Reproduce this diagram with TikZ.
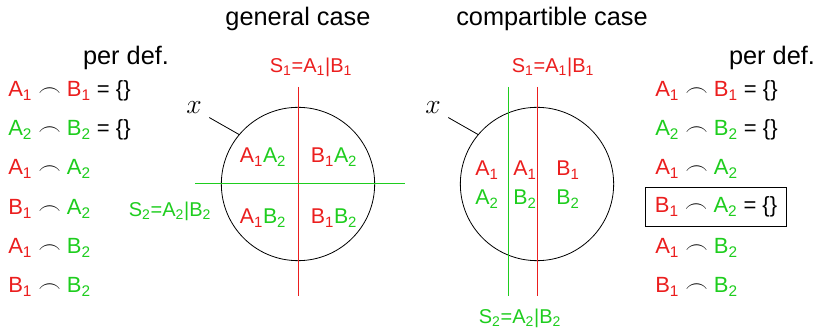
\documentclass[tikz,border=0pt]{standalone}
\usepackage{fontspec}
\setmainfont{Liberation Sans}
\usetikzlibrary{positioning}
\definecolor{SplitRed}{RGB}{235,30,30}
\definecolor{SplitGreen}{RGB}{30,205,30}
\newcommand{\Aone}{\textcolor{SplitRed}{A\textsubscript{1}}}
\newcommand{\Bone}{\textcolor{SplitRed}{B\textsubscript{1}}}
\newcommand{\Atwo}{\textcolor{SplitGreen}{A\textsubscript{2}}}
\newcommand{\Btwo}{\textcolor{SplitGreen}{B\textsubscript{2}}}
\newcommand{\cut}{$\frown$}
\tikzset{
  title/.style={font=\fontsize{19}{22}\selectfont},
  lbl/.style={font=\fontsize{16}{19}\selectfont},
  splitlbl/.style={font=\fontsize{15}{18}\selectfont,inner sep=1pt},
  row/.style={anchor=west,inner sep=0pt,font=\fontsize{16.5}{19}\selectfont},
  boxrow/.style={anchor=west,draw,line width=0.75pt,inner xsep=7pt,
    minimum height=29pt,font=\fontsize{16.5}{19}\selectfont},
  setX/.style={circle,draw,line width=0.6pt,minimum size=115pt,inner sep=0pt},
  redsplit/.style={draw=SplitRed,line width=0.75pt},
  greensplit/.style={draw=SplitGreen,line width=0.75pt},
  leader/.style={line width=0.6pt},
  xlabel/.style={font=\fontsize{22}{24}\selectfont,inner sep=1pt}
}

\begin{document}
\begin{tikzpicture}[x=0.75pt,y=-0.75pt]
\useasboundingbox (0,0) rectangle (818,331);

% titles
\node[title] (gentitle) at (298,19) {general case};
\node[title] (comptitle) at (552,19) {compartible case};

% left list
\node[title] (ldef) at (126,58) {per def.};
\node[row] (l1) at (8,91) {\Aone{} \cut{} \Bone{} = \{\}};
\node[row] (l2) at (8,130) {\Atwo{} \cut{} \Btwo{} = \{\}};
\node[row] (l3) at (8,169) {\Aone{} \cut{} \Atwo};
\node[row] (l4) at (8,209) {\Bone{} \cut{} \Atwo};
\node[row] (l5) at (8,248) {\Aone{} \cut{} \Btwo};
\node[row] (l6) at (8,287) {\Bone{} \cut{} \Btwo};

% general case
\node[setX] (genX) at (298,184) {};
\coordinate (g1top) at (298,87);
\coordinate (g1bot) at (298,296);
\coordinate (g2left) at (195,184);
\coordinate (g2right) at (405,184);
\draw[redsplit] (g1top) -- (g1bot);
\draw[greensplit] (g2left) -- (g2right);
\node[splitlbl,text=SplitRed] (gS1) at (311,67) {S\textsubscript{1}=A\textsubscript{1}|B\textsubscript{1}};
\node[splitlbl,text=SplitGreen] (gS2) at (170,211) {S\textsubscript{2}=A\textsubscript{2}|B\textsubscript{2}};
\node[lbl] (gq1) at (263,157) {\Aone\Atwo};
\node[lbl] (gq2) at (334,157) {\Bone\Atwo};
\node[lbl] (gq3) at (263,218) {\Aone\Btwo};
\node[lbl] (gq4) at (334,218) {\Bone\Btwo};
\node[xlabel] (gx) at (194,108) {$x$};
\draw[leader] (gx.south east) ++(6,2) coordinate (gxs) (gxs) -- (genX.140);

% compartible case
\node[setX] (compX) at (537,184) {};
\coordinate (c1top) at (537,87);
\coordinate (c1bot) at (537,296);
\coordinate (c2top) at (508,87);
\coordinate (c2bot) at (508,296);
\draw[redsplit] (c1top) -- (c1bot);
\draw[greensplit] (c2top) -- (c2bot);
\node[splitlbl,text=SplitRed] (cS1) at (553,67) {S\textsubscript{1}=A\textsubscript{1}|B\textsubscript{1}};
\node[splitlbl,text=SplitGreen] (cS2) at (520,318) {S\textsubscript{2}=A\textsubscript{2}|B\textsubscript{2}};
\node[lbl] (ca1) at (487,170) {\Aone};
\node[lbl] (ca2) at (487,199) {\Atwo};
\node[lbl] (cb1) at (525,170) {\Aone};
\node[lbl] (cb2) at (525,199) {\Btwo};
\node[lbl] (cc1) at (568,170) {\Bone};
\node[lbl] (cc2) at (568,199) {\Btwo};
\node[xlabel] (cx) at (433,108) {$x$};
\draw[leader] (cx.south east) ++(6,2) coordinate (cxs) (cxs) -- (compX.140);

% right list
\node[title] (rdef) at (772,58) {per def.};
\node[row] (r1) at (655,91) {\Aone{} \cut{} \Bone{} = \{\}};
\node[row] (r2) at (655,130) {\Atwo{} \cut{} \Btwo{} = \{\}};
\node[row] (r3) at (655,169) {\Aone{} \cut{} \Atwo};
\node[boxrow] (r4) at (645,207) {\Bone{} \cut{} \Atwo{} = \{\}};
\node[row] (r5) at (655,248) {\Aone{} \cut{} \Btwo};
\node[row] (r6) at (655,287) {\Bone{} \cut{} \Btwo};

\end{tikzpicture}
\end{document}
